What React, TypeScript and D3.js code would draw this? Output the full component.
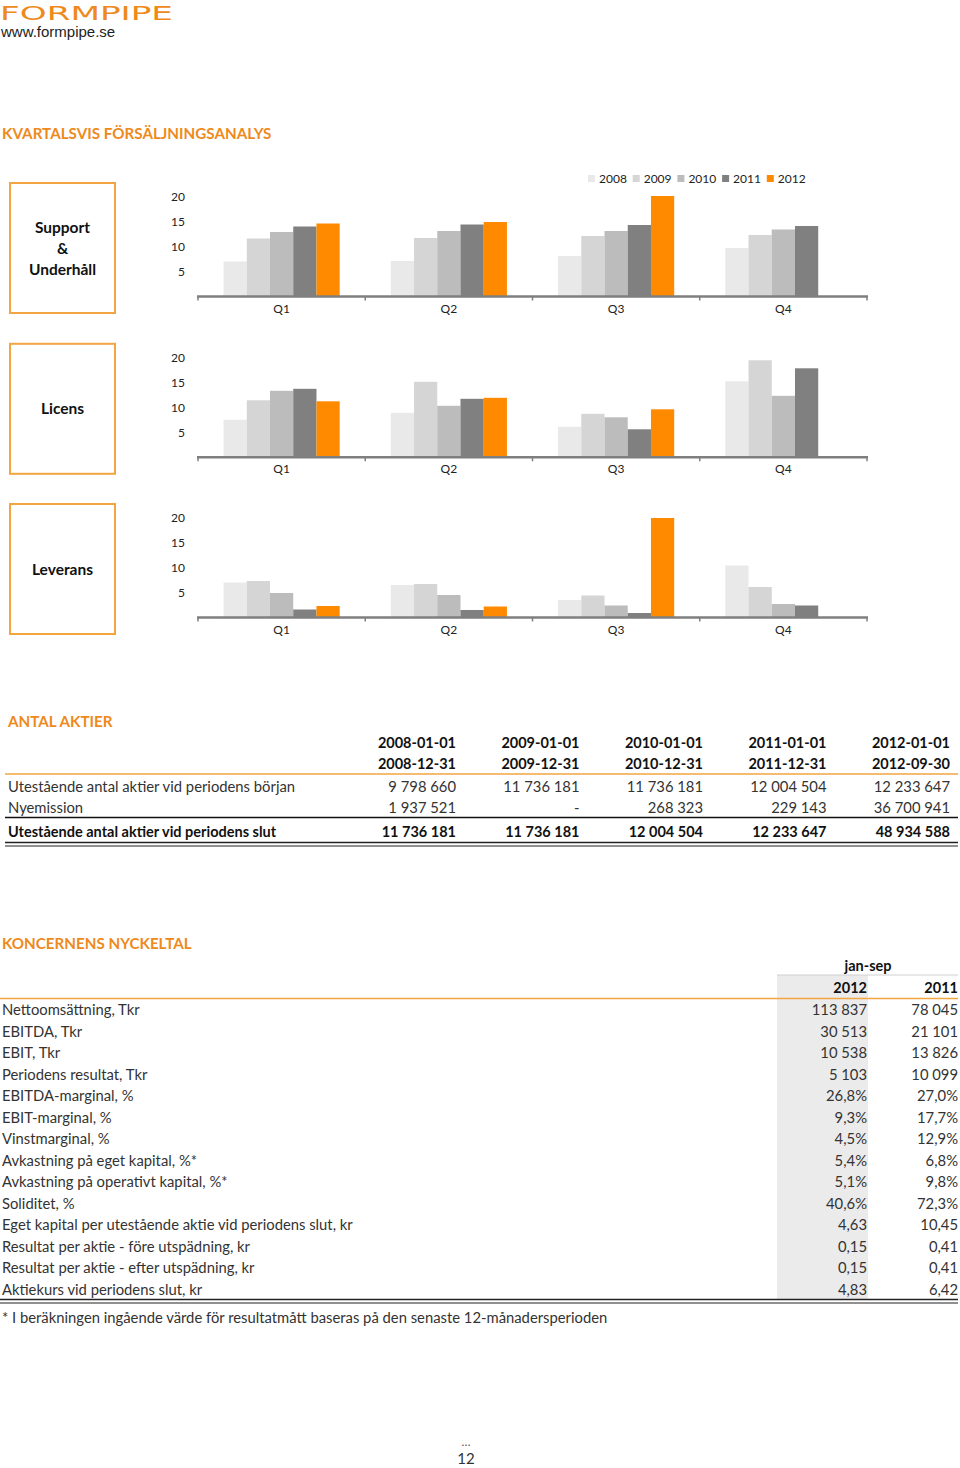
import React from "react";
import * as d3 from "d3";

const quarters = ["Q1", "Q2", "Q3", "Q4"];
const years = ["2008", "2009", "2010", "2011", "2012"];
const yearColors = ["#E9E9E9", "#D5D5D5", "#BCBCBC", "#808080", "#FF8A00"];
const yTicks = [5, 10, 15, 20];

// values per year, per quarter (null = no data)
const supportValues: (number | null)[][] = [
  [7.0, 7.1, 8.1, 9.7],
  [11.6, 11.7, 12.1, 12.3],
  [12.9, 13.1, 13.1, 13.4],
  [14.0, 14.4, 14.3, 14.1],
  [14.6, 14.9, 20.1, null],
];
const licensValues: (number | null)[][] = [
  [7.5, 8.9, 6.1, 15.2],
  [11.4, 15.1, 8.7, 19.4],
  [13.3, 10.3, 8.0, 12.3],
  [13.7, 11.7, 5.6, 17.8],
  [11.2, 11.9, 9.6, null],
];
const leveransValues: (number | null)[][] = [
  [7.0, 6.5, 3.5, 10.4],
  [7.3, 6.7, 4.4, 6.1],
  [4.9, 4.5, 2.4, 2.7],
  [1.6, 1.5, 0.9, 2.4],
  [2.3, 2.2, 19.9, null],
];
const chartTitles = [["Support", "&", "Underhåll"], ["Licens"], ["Leverans"]];

// Antal aktier table
const aktierHeader1 = ["2008-01-01", "2009-01-01", "2010-01-01", "2011-01-01", "2012-01-01"];
const aktierHeader2 = ["2008-12-31", "2009-12-31", "2010-12-31", "2011-12-31", "2012-09-30"];
const aktierStart = ["9 798 660", "11 736 181", "11 736 181", "12 004 504", "12 233 647"];
const aktierNyemission = ["1 937 521", "-", "268 323", "229 143", "36 700 941"];
const aktierEnd = ["11 736 181", "11 736 181", "12 004 504", "12 233 647", "48 934 588"];

// Nyckeltal table
const nyckelLabels = [
  "Nettoomsättning, Tkr",
  "EBITDA, Tkr",
  "EBIT, Tkr",
  "Periodens resultat, Tkr",
  "EBITDA-marginal, %",
  "EBIT-marginal, %",
  "Vinstmarginal, %",
  "Avkastning på eget kapital, %*",
  "Avkastning på operativt kapital, %*",
  "Soliditet, %",
  "Eget kapital per utestående aktie vid periodens slut, kr",
  "Resultat per aktie - före utspädning, kr",
  "Resultat per aktie - efter utspädning, kr",
  "Aktiekurs vid periodens slut, kr",
];
const nyckel2012 = ["113 837", "30 513", "10 538", "5 103", "26,8%", "9,3%", "4,5%", "5,4%", "5,1%", "40,6%", "4,63", "0,15", "0,15", "4,83"];
const nyckel2011 = ["78 045", "21 101", "13 826", "10 099", "27,0%", "17,7%", "12,9%", "6,8%", "9,8%", "72,3%", "10,45", "0,41", "0,41", "6,42"];

const ORANGE = "#EE8A1C";
const FONT = "Lato, 'Open Sans', sans-serif";
const FS = 14.8;
const FSB = 14.5;

function BarChart({ values, zeroY, title }: { values: (number | null)[][]; zeroY: number; title: string[] }) {
  const x = d3.scaleBand<string>().domain(quarters).range([198, 867]).paddingInner(0).paddingOuter(0);
  const xi = d3.scaleBand<string>().domain(years).range([0, x.bandwidth()]).paddingInner(0).paddingOuter(1.1);
  const y = d3.scaleLinear().domain([0, 20]).range([zeroY, zeroY - 100]);
  const boxTop = zeroY - 113.5;
  const boxH = 130;
  const boxMid = boxTop + boxH / 2;
  const lineH = 21;
  return (
    <g>
      <rect x={10} y={boxTop} width={105} height={boxH} fill="none" stroke="#F2A541" strokeWidth={2} />
      {title.map((t, i) => (
        <text key={t} x={62.5} y={boxMid + (i - (title.length - 1) / 2) * lineH + 5.5} textAnchor="middle"
          fontFamily={FONT} fontWeight={700} fontSize={15.5} fill="#111">{t}</text>
      ))}
      {yTicks.map((t) => (
        <text key={t} x={185} y={y(t) + 4.5} textAnchor="end" fontFamily={FONT} fontSize={12} fill="#222">{t}</text>
      ))}
      {years.map((yr, si) =>
        quarters.map((q, qi) => {
          const v = values[si][qi];
          if (v == null) return null;
          return (
            <rect key={yr + q} x={(x(q) ?? 0) + (xi(yr) ?? 0)} y={y(v)} width={xi.bandwidth()} height={zeroY - y(v)} fill={yearColors[si]} />
          );
        })
      )}
      <line x1={197} x2={868} y1={zeroY} y2={zeroY} stroke="#7F7F7F" strokeWidth={2.6} />
      {[...quarters.map((q) => x(q) ?? 0), 867].map((tx, i) => (
        <line key={i} x1={tx} x2={tx} y1={zeroY} y2={zeroY + 4} stroke="#7F7F7F" strokeWidth={1.5} />
      ))}
      {quarters.map((q) => (
        <text key={q} x={(x(q) ?? 0) + x.bandwidth() / 2} y={zeroY + 16} textAnchor="middle" fontFamily={FONT} fontSize={12} fill="#222">{q}</text>
      ))}
    </g>
  );
}

export default function App() {
  const aktierCols = d3.scalePoint<number>().domain([0, 1, 2, 3, 4]).range([456, 950]);
  const rowY = d3.scaleLinear().domain([0, 13]).range([1010, 1290]);
  return (
    <svg width={960} height={1468} style={{ position: "absolute", left: 0, top: 0, background: "#fff" }}>
      {/* header */}
      <text x={0} y={20} fontFamily="'DejaVu Sans', sans-serif" fontWeight={400} fontSize={19} fill={ORANGE}
        textLength={173} lengthAdjust="spacingAndGlyphs">FORMPIPE</text>
      <text x={1} y={37} fontFamily="'Liberation Sans', Arial, sans-serif" fontSize={15} fill="#222">www.formpipe.se</text>

      <text x={2} y={139} fontFamily={FONT} fontWeight={700} fontSize={15.2} fill={ORANGE}>KVARTALSVIS FÖRSÄLJNINGSANALYS</text>

      {/* legend */}
      {years.map((yr, i) => {
        const lx = 588 + i * 44.7;
        return (
          <g key={yr}>
            <rect x={lx} y={175} width={7} height={7} fill={yearColors[i]} />
            <text x={lx + 11} y={183} fontFamily={FONT} fontSize={12} fill="#222">{yr}</text>
          </g>
        );
      })}

      <BarChart values={supportValues} zeroY={296.5} title={chartTitles[0]} />
      <BarChart values={licensValues} zeroY={457.3} title={chartTitles[1]} />
      <BarChart values={leveransValues} zeroY={617.5} title={chartTitles[2]} />

      {/* Antal aktier */}
      <text x={8} y={727} fontFamily={FONT} fontWeight={700} fontSize={15.2} fill={ORANGE}>ANTAL AKTIER</text>
      {aktierHeader1.map((h, i) => (
        <text key={"h1" + i} x={aktierCols(i)} y={748} textAnchor="end" fontFamily={FONT} fontWeight={700} fontSize={FSB} fill="#111">{h}</text>
      ))}
      {aktierHeader2.map((h, i) => (
        <text key={"h2" + i} x={aktierCols(i)} y={769} textAnchor="end" fontFamily={FONT} fontWeight={700} fontSize={FSB} fill="#111">{h}</text>
      ))}
      <line x1={5} x2={958} y1={774} y2={774} stroke="#F2A541" strokeWidth={1.5} />
      <text x={8} y={792} fontFamily={FONT} fontSize={FS} fill="#333">Utestående antal aktier vid periodens början</text>
      {aktierStart.map((v, i) => (
        <text key={"s" + i} x={aktierCols(i)} y={792} textAnchor="end" fontFamily={FONT} fontSize={FS} fill="#333">{v}</text>
      ))}
      <text x={8} y={813} fontFamily={FONT} fontSize={FS} fill="#333">Nyemission</text>
      {aktierNyemission.map((v, i) => (
        <text key={"n" + i} x={aktierCols(i)} y={813} textAnchor="end" fontFamily={FONT} fontSize={FS} fill="#333">{v}</text>
      ))}
      <line x1={5} x2={958} y1={817.5} y2={817.5} stroke="#111" strokeWidth={1.3} />
      <text x={8} y={837} fontFamily={FONT} fontWeight={700} fontSize={FSB} fill="#111">Utestående antal aktier vid periodens slut</text>
      {aktierEnd.map((v, i) => (
        <text key={"e" + i} x={aktierCols(i)} y={837} textAnchor="end" fontFamily={FONT} fontWeight={700} fontSize={FSB} fill="#111">{v}</text>
      ))}
      <line x1={5} x2={958} y1={842.5} y2={842.5} stroke="#222" strokeWidth={1.5} />
      <line x1={5} x2={958} y1={846} y2={846} stroke="#222" strokeWidth={1.2} />

      {/* Nyckeltal */}
      <text x={2} y={949} fontFamily={FONT} fontWeight={700} fontSize={15.2} fill={ORANGE}>KONCERNENS NYCKELTAL</text>
      <rect x={777} y={975} width={91} height={324} fill="#EBEBEB" />
      <line x1={777} x2={958} y1={975} y2={975} stroke="#D0D0D0" strokeWidth={1} />
      <text x={868} y={971} textAnchor="middle" fontFamily={FONT} fontWeight={700} fontSize={FSB} fill="#111">jan-sep</text>
      <text x={867} y={993} textAnchor="end" fontFamily={FONT} fontWeight={700} fontSize={FSB} fill="#111">2012</text>
      <text x={958} y={993} textAnchor="end" fontFamily={FONT} fontWeight={700} fontSize={FSB} fill="#111">2011</text>
      <line x1={0} x2={958} y1={998.5} y2={998.5} stroke="#F2A541" strokeWidth={1.5} />
      {nyckelLabels.map((l, i) => (
        <g key={l}>
          <text x={2} y={rowY(i) + 5} fontFamily={FONT} fontSize={FS} fill="#333">{l}</text>
          <text x={867} y={rowY(i) + 5} textAnchor="end" fontFamily={FONT} fontSize={FS} fill="#333">{nyckel2012[i]}</text>
          <text x={958} y={rowY(i) + 5} textAnchor="end" fontFamily={FONT} fontSize={FS} fill="#333">{nyckel2011[i]}</text>
        </g>
      ))}
      <line x1={0} x2={958} y1={1299.5} y2={1299.5} stroke="#222" strokeWidth={1.5} />
      <line x1={0} x2={958} y1={1303} y2={1303} stroke="#222" strokeWidth={1.2} />
      <text x={2} y={1323} fontFamily={FONT} fontSize={FS} fill="#333">* I beräkningen ingående värde för resultatmått baseras på den senaste 12-månadersperioden</text>

      <text x={466} y={1446} textAnchor="middle" fontFamily={FONT} fontSize={12} fill="#555">…</text>
      <text x={466} y={1464} textAnchor="middle" fontFamily={FONT} fontSize={15} fill="#333">12</text>
    </svg>
  );
}
